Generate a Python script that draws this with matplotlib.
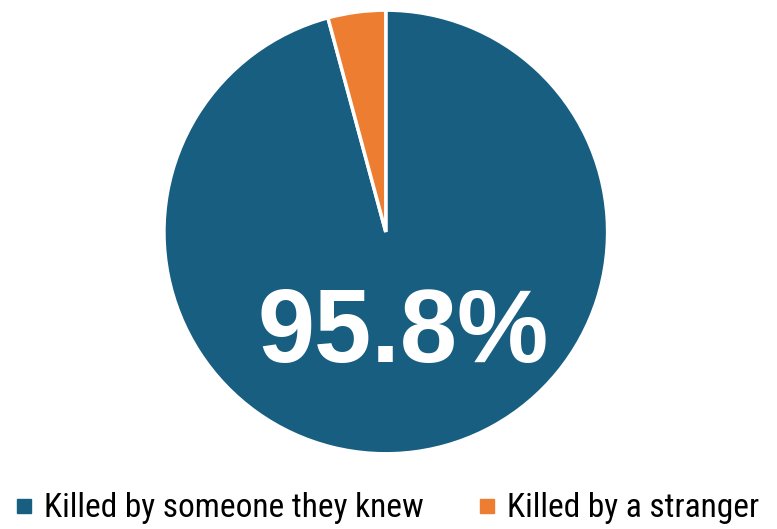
import matplotlib.pyplot as plt
from matplotlib.lines import Line2D

labels = ['Killed by someone they knew', 'Killed by a stranger']
values = [95.8, 4.2]
colors = ['#175E81', '#ED7D31']

fig = plt.figure(figsize=(7.77, 5.29), dpi=100)
ax = fig.add_axes([0.211, 0.142, 0.571, 0.839])
ax.pie(values, colors=colors, startangle=90, counterclock=False,
       wedgeprops={'edgecolor': 'white', 'linewidth': 2.5})
ax.set_xlim(-1, 1)
ax.set_ylim(-1, 1)
ax.set_aspect('equal')

ax.text(0.077, -0.586, f'{values[0]}%', color='white', fontsize=74,
        fontweight='bold', family='Liberation Sans', ha='center', va='baseline')

handles = [Line2D([], [], marker='s', linestyle='none', markersize=9.5,
                  markerfacecolor=c, markeredgecolor=c) for c in colors]
fig.legend(handles, labels, loc='lower center', ncol=2, frameon=False,
           bbox_to_anchor=(0.497, -0.048), handletextpad=0.3, handlelength=0.6,
           columnspacing=1.6, prop={'family': 'Roboto Condensed', 'size': 24})

plt.savefig('out.png')
